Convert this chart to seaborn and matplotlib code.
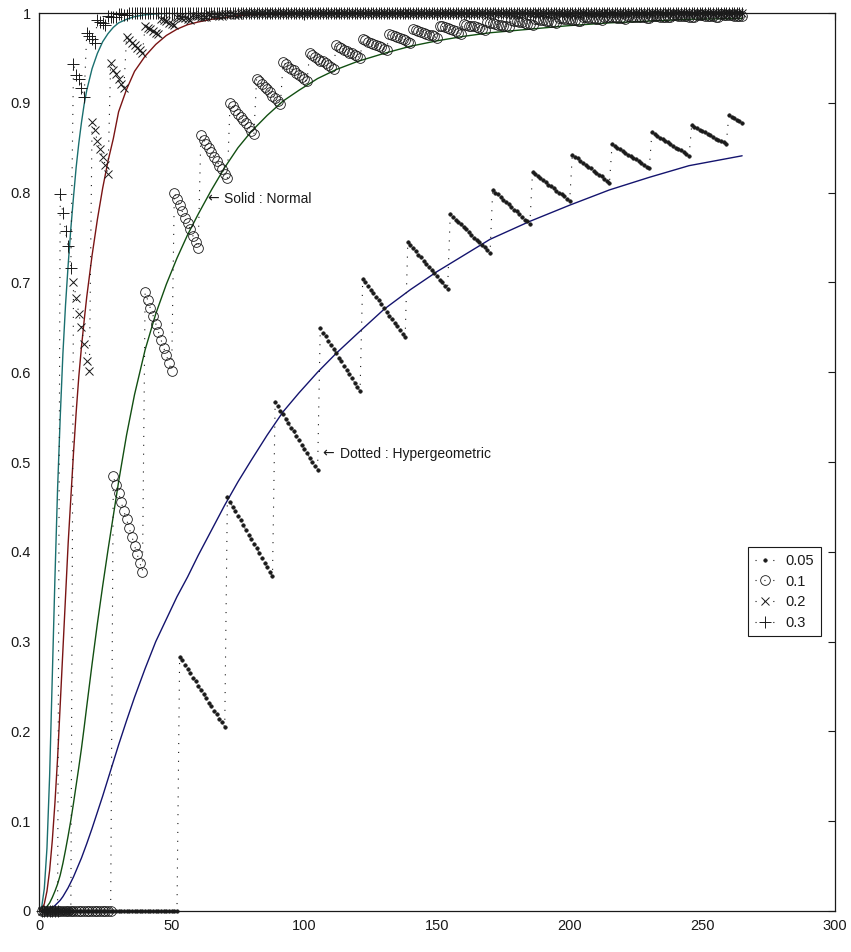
import matplotlib
matplotlib.use("Agg")
import matplotlib.pyplot as plt
import seaborn as sns

# x grid for the normal approximation curves
curve_x = [0, 1, 2, 3, 4, 5, 6, 7, 8, 9, 10, 11, 12, 13, 14, 15, 16, 17, 18,
           20, 22, 24, 26, 28, 30, 33, 36, 40, 44, 48, 52, 56, 60,
           65, 70, 75, 80, 86, 92, 98, 105, 112, 120, 130, 140, 150, 160, 170,
           185, 200, 215, 230, 245, 265]

norm_030 = [0, 0.004, 0.025, 0.07, 0.15, 0.26, 0.37, 0.47, 0.55, 0.62, 0.675, 0.72, 0.76,
            0.795, 0.828, 0.855, 0.878, 0.898, 0.914,
            0.938, 0.955, 0.968, 0.977, 0.984, 0.989, 0.993, 0.996, 0.998, 0.999, 0.9995, 1.0, 1.0, 1.0,
            1.0, 1.0, 1.0, 1.0, 1.0, 1.0, 1.0, 1.0, 1.0, 1.0, 1.0, 1.0, 1.0, 1.0, 1.0,
            1.0, 1.0, 1.0, 1.0, 1.0, 1.0]
norm_020 = [0, 0.001, 0.008, 0.022, 0.045, 0.078, 0.12, 0.17, 0.23, 0.29, 0.35, 0.41, 0.46,
            0.51, 0.555, 0.595, 0.628, 0.657, 0.684,
            0.73, 0.77, 0.805, 0.835, 0.86, 0.89, 0.915, 0.935, 0.952, 0.965, 0.975, 0.982, 0.987, 0.990,
            0.993, 0.995, 0.997, 0.998, 0.9985, 0.999, 0.9995, 1.0, 1.0, 1.0, 1.0, 1.0, 1.0, 1.0, 1.0,
            1.0, 1.0, 1.0, 1.0, 1.0, 1.0]
norm_010 = [0, 0.0005, 0.002, 0.005, 0.009, 0.015, 0.022, 0.03, 0.04, 0.053, 0.068, 0.084, 0.101,
            0.12, 0.14, 0.16, 0.181, 0.204, 0.228,
            0.275, 0.32, 0.362, 0.402, 0.44, 0.478, 0.53, 0.575, 0.625, 0.665, 0.698, 0.727, 0.753, 0.776,
            0.803, 0.828, 0.85, 0.868, 0.886, 0.902, 0.914, 0.927, 0.937, 0.946, 0.955, 0.963, 0.969, 0.974, 0.978,
            0.982, 0.986, 0.989, 0.991, 0.993, 0.994]
norm_005 = [0, 0.0002, 0.0006, 0.0013, 0.0025, 0.004, 0.006, 0.009, 0.012, 0.016, 0.021, 0.026, 0.032,
            0.038, 0.045, 0.052, 0.059, 0.067, 0.075,
            0.092, 0.11, 0.128, 0.147, 0.166, 0.185, 0.212, 0.238, 0.27, 0.3, 0.325, 0.35, 0.372, 0.396,
            0.424, 0.452, 0.478, 0.502, 0.53, 0.556, 0.577, 0.6, 0.621, 0.643, 0.67, 0.692, 0.712, 0.73, 0.748,
            0.768, 0.786, 0.803, 0.817, 0.83, 0.841]

# hypergeometric values, one per x = 1..265
hyp_x = list(range(1, 266))

hyp_005 = [0.0] * 52 + [
    0.283, 0.279, 0.274, 0.269, 0.265, 0.260, 0.256, 0.251, 0.246, 0.242, 0.237, 0.232, 0.228, 0.223, 0.219, 0.214, 0.210, 0.205,
    0.461, 0.456, 0.450, 0.445, 0.440, 0.435, 0.430, 0.424, 0.419, 0.414, 0.409, 0.404, 0.399, 0.393, 0.388, 0.383, 0.378, 0.373,
    0.567, 0.562, 0.557, 0.553, 0.548, 0.543, 0.538, 0.534, 0.529, 0.524, 0.519, 0.515, 0.510, 0.505, 0.500, 0.496, 0.491,
    0.649, 0.644, 0.640, 0.635, 0.630, 0.626, 0.621, 0.616, 0.612, 0.607, 0.602, 0.598, 0.593, 0.588, 0.584, 0.579,
    0.704, 0.700, 0.696, 0.692, 0.688, 0.684, 0.680, 0.676, 0.672, 0.667, 0.663, 0.659, 0.655, 0.651, 0.647, 0.643, 0.639,
    0.745, 0.742, 0.738, 0.735, 0.731, 0.728, 0.724, 0.721, 0.717, 0.714, 0.710, 0.707, 0.703, 0.700, 0.696, 0.693,
    0.776, 0.773, 0.770, 0.767, 0.765, 0.762, 0.759, 0.756, 0.753, 0.750, 0.747, 0.745, 0.742, 0.739, 0.736, 0.733,
    0.803, 0.800, 0.798, 0.795, 0.792, 0.789, 0.787, 0.784, 0.781, 0.779, 0.776, 0.773, 0.770, 0.768, 0.765,
    0.823, 0.821, 0.818, 0.816, 0.814, 0.812, 0.809, 0.807, 0.805, 0.802, 0.800, 0.798, 0.796, 0.793, 0.791,
    0.842, 0.840, 0.838, 0.835, 0.833, 0.831, 0.829, 0.827, 0.824, 0.822, 0.820, 0.818, 0.815, 0.813, 0.811,
    0.854, 0.852, 0.850, 0.848, 0.846, 0.844, 0.842, 0.841, 0.839, 0.837, 0.835, 0.833, 0.831, 0.829, 0.827,
    0.867, 0.865, 0.863, 0.861, 0.860, 0.858, 0.856, 0.854, 0.852, 0.850, 0.848, 0.847, 0.845, 0.843, 0.841,
    0.875, 0.873, 0.872, 0.870, 0.869, 0.867, 0.865, 0.864, 0.862, 0.860, 0.859, 0.857, 0.856, 0.854,
    0.886, 0.884, 0.883, 0.881, 0.880, 0.878]

hyp_010 = [0.0] * 27 + [
    0.484, 0.474, 0.465, 0.455, 0.445, 0.436, 0.426, 0.417, 0.407, 0.397, 0.388, 0.378,
    0.689, 0.680, 0.671, 0.663, 0.654, 0.645, 0.636, 0.627, 0.619, 0.610, 0.601,
    0.800, 0.793, 0.786, 0.779, 0.772, 0.766, 0.759, 0.752, 0.745, 0.738,
    0.864, 0.859, 0.854, 0.850, 0.845, 0.840, 0.835, 0.830, 0.826, 0.821, 0.816,
    0.900, 0.896, 0.892, 0.888, 0.884, 0.881, 0.877, 0.873, 0.869, 0.865,
    0.927, 0.924, 0.921, 0.918, 0.915, 0.912, 0.908, 0.905, 0.902, 0.899,
    0.945, 0.943, 0.940, 0.938, 0.936, 0.933, 0.931, 0.929, 0.926, 0.924,
    0.955, 0.953, 0.951, 0.949, 0.947, 0.946, 0.944, 0.942, 0.940, 0.938,
    0.964, 0.962, 0.961, 0.959, 0.958, 0.956, 0.955, 0.953, 0.952, 0.950,
    0.971, 0.970, 0.968, 0.967, 0.966, 0.964, 0.963, 0.962, 0.960, 0.959,
    0.977, 0.976, 0.974, 0.973, 0.972, 0.971, 0.970, 0.968, 0.967,
    0.982, 0.981, 0.980, 0.979, 0.978, 0.977, 0.976, 0.975, 0.974, 0.972,
    0.986, 0.985, 0.984, 0.983, 0.982, 0.981, 0.980, 0.978, 0.977,
    0.988, 0.987, 0.986, 0.985, 0.985, 0.984, 0.983, 0.982, 0.981,
    0.990, 0.989, 0.989, 0.988, 0.987, 0.987, 0.986, 0.985, 0.984,
    0.992, 0.991, 0.991, 0.990, 0.990, 0.989, 0.988, 0.988, 0.987,
    0.993, 0.993, 0.992, 0.992, 0.991, 0.991, 0.990, 0.990, 0.989,
    0.994, 0.994, 0.993, 0.993, 0.993, 0.992, 0.992, 0.991, 0.991,
    0.995, 0.995, 0.994, 0.994, 0.994, 0.993, 0.993, 0.992,
    0.996, 0.996, 0.995, 0.995, 0.995, 0.994, 0.994, 0.994, 0.993,
    0.997, 0.996, 0.996, 0.996, 0.995, 0.995, 0.995, 0.994, 0.994,
    0.997, 0.997, 0.997, 0.996, 0.996, 0.996, 0.995, 0.995,
    0.998, 0.998, 0.997, 0.997, 0.997, 0.997, 0.996, 0.996, 0.996,
    0.998, 0.998, 0.998, 0.997, 0.997, 0.997, 0.997, 0.996, 0.996,
    0.999, 0.998, 0.998, 0.998, 0.998, 0.997, 0.997, 0.997, 0.997]

hyp_020 = [0.0] * 12 + [
    0.700, 0.683, 0.665, 0.650, 0.631, 0.613, 0.601,
    0.879, 0.870, 0.857, 0.848, 0.840, 0.831, 0.821,
    0.944, 0.937, 0.932, 0.926, 0.921, 0.917,
    0.973, 0.970, 0.967, 0.964, 0.961, 0.959, 0.956,
    0.985, 0.983, 0.982, 0.980, 0.978, 0.977,
    0.993, 0.992, 0.991, 0.989, 0.988, 0.987,
    0.996, 0.995, 0.994, 0.994, 0.993, 0.992,
    0.998, 0.997, 0.997, 0.996, 0.996, 0.995,
    0.999, 0.998, 0.998, 0.998, 0.997, 0.997,
    0.999, 0.999, 0.999, 0.999, 0.998, 0.998] + [1.0] * 190

hyp_030 = [0.0] * 7 + [
    0.798, 0.777, 0.757, 0.740, 0.716,
    0.943, 0.931, 0.926, 0.917, 0.906,
    0.978, 0.974, 0.971, 0.967,
    0.992, 0.990, 0.989, 0.987,
    0.997, 0.996, 0.995, 0.995,
    0.999, 0.999, 0.998, 0.998] + [1.0] * 232

series_labels = ["0.05", "0.1", "0.2", "0.3"]
curve_colors = ["#14146e", "#124f12", "#7a1414", "#1a6f6f"]

sns.set_theme(style="white")
plt.rcParams["font.family"] = ["Liberation Sans", "DejaVu Sans"]
plt.rcParams["text.color"] = "k"

fig = plt.figure(figsize=(8.51, 9.52), dpi=100)
ax = fig.add_axes([39 / 851, 41 / 952, 796 / 851, 898 / 952])

# smooth normal approximations
for yv, c in zip([norm_005, norm_010, norm_020, norm_030], curve_colors):
    sns.lineplot(x=curve_x, y=yv, color=c, lw=1.0, estimator=None, ax=ax)

# hypergeometric, dotted black with markers
dots = (0, (1, 7))
hyp_all = [hyp_005, hyp_010, hyp_020, hyp_030]
marker_kw = [
    dict(marker=".", ms=5, mfc="k", mec="k", mew=0.5),
    dict(marker="o", ms=7, mfc="none", mec="k", mew=0.6),
    dict(marker="x", ms=6, mfc="none", mec="k", mew=0.7),
    dict(marker="+", ms=8, mfc="none", mec="k", mew=0.7),
]
handles = []
for yv, lab, mk in zip(hyp_all, series_labels, marker_kw):
    sns.lineplot(x=hyp_x, y=yv, color="k", lw=0.8, linestyle=dots, estimator=None,
                 label=lab, ax=ax, clip_on=False, **mk)
    handles.append(ax.get_lines()[-1])

ax.set_xlim(0, 300)
ax.set_ylim(0, 1)
ax.set_xticks([0, 50, 100, 150, 200, 250, 300])
ax.set_yticks([0, 0.1, 0.2, 0.3, 0.4, 0.5, 0.6, 0.7, 0.8, 0.9, 1])
ax.set_xticklabels(["0", "50", "100", "150", "200", "250", "300"])
ax.set_yticklabels(["0", "0.1", "0.2", "0.3", "0.4", "0.5", "0.6", "0.7", "0.8", "0.9", "1"])
ax.tick_params(direction="in", length=5, width=0.8, top=True, right=True,
               labelsize=10.5, colors="k", pad=6)
for sp in ax.spines.values():
    sp.set_color("k")
    sp.set_linewidth(0.9)

# annotations: wide arrow glyph from DejaVu, label in Liberation Sans
for (ax_x, ax_y, msg) in [(63.3, 0.793, "Solid : Normal"), (106.9, 0.509, "Dotted : Hypergeometric")]:
    ax.text(ax_x, ax_y, "\u2190", fontsize=10, family="DejaVu Sans", color="k",
            va="center", ha="left")
    ax.annotate(msg, xy=(ax_x, ax_y), xytext=(12.5, 0), textcoords="offset points",
                fontsize=10, color="k", va="center", ha="left")

leg = ax.legend(handles, series_labels, loc="lower right", bbox_to_anchor=(0.982, 0.306),
                fontsize=10.5, numpoints=1, handlelength=1.4, handletextpad=0.7,
                labelspacing=0.45, borderpad=0.45, fancybox=False, framealpha=1,
                edgecolor="k", borderaxespad=0)
leg.get_frame().set_linewidth(0.8)
for t in leg.get_texts():
    t.set_color("k")

fig.savefig("out.png", dpi=100)
